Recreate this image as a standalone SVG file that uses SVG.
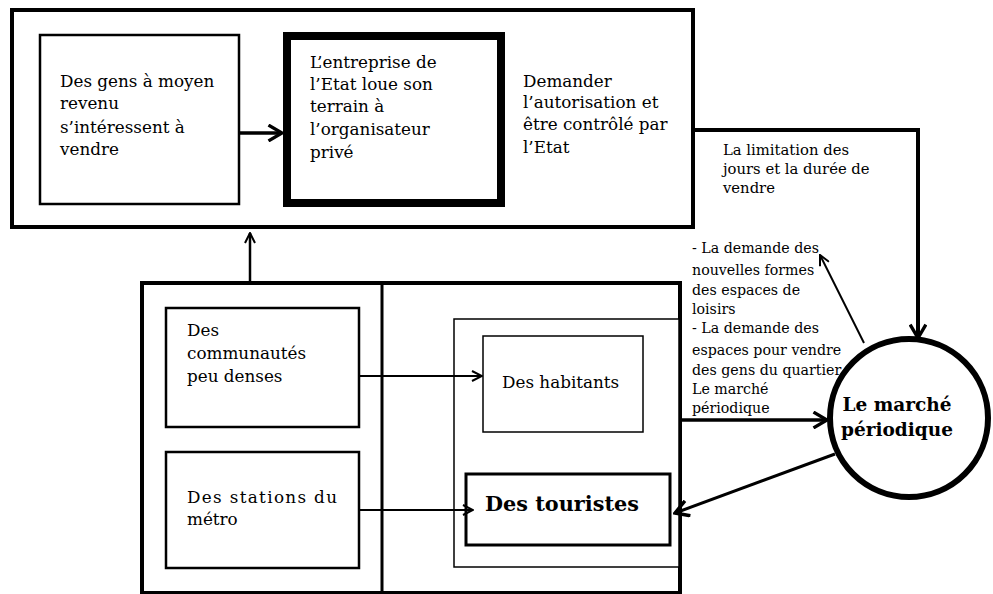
<svg xmlns="http://www.w3.org/2000/svg" width="993" height="594" viewBox="0 0 993 594">
<defs>
<style>
.t{font-family:"DejaVu Serif","Liberation Serif",serif;font-size:16.8px;fill:#000}
.s{font-family:"DejaVu Serif","Liberation Serif",serif;font-size:14.2px;fill:#000}
.s2{font-family:"DejaVu Serif","Liberation Serif",serif;font-size:14.8px;fill:#000}
.b{font-family:"DejaVu Serif","Liberation Serif",serif;font-weight:bold;fill:#000}
.box{fill:#fff;stroke:#000}
.ln{fill:none;stroke:#000;stroke-linecap:butt}
</style>
<marker id="ah" viewBox="0 0 12 12" refX="11" refY="6" markerWidth="12" markerHeight="12" markerUnits="userSpaceOnUse" orient="auto">
<path d="M1,1 L11,6 L1,11" fill="none" stroke="#000" stroke-width="2"/>
</marker>
<marker id="ahL" viewBox="0 0 16 16" refX="14" refY="8" markerWidth="18" markerHeight="18" markerUnits="userSpaceOnUse" orient="auto">
<path d="M2,1 L14,8 L2,15" fill="none" stroke="#000" stroke-width="3"/>
</marker>
</defs>
<rect width="993" height="594" fill="#fff"/>

<g id="top-frame"><rect class="box" x="12" y="10" width="681" height="217" stroke-width="4"/></g>
<g id="n-gens"><rect class="box" x="40" y="35" width="199" height="169" stroke-width="2.5"/>
<text class="t"><tspan x="60" y="87">Des gens à moyen</tspan><tspan x="60" y="109">revenu</tspan><tspan x="60" y="133">s’intéressent à</tspan><tspan x="60" y="155">vendre</tspan></text></g>
<g id="n-entreprise"><rect class="box" x="287" y="36" width="214" height="167" stroke-width="8"/>
<text class="t"><tspan x="310" y="68">L’entreprise de</tspan><tspan x="310" y="90">l’Etat loue son</tspan><tspan x="310" y="112">terrain à</tspan><tspan x="310" y="135">l’organisateur</tspan><tspan x="310" y="158">privé</tspan></text></g>
<g id="n-demander"><text class="t"><tspan x="523" y="87">Demander</tspan><tspan x="523" y="108">l’autorisation et</tspan><tspan x="523" y="130">être contrôlé par</tspan><tspan x="523" y="153">l’Etat</tspan></text></g>

<g id="bottom-frame"><rect class="box" x="142" y="283" width="538" height="310" stroke-width="4"/>
<line class="ln" x1="382" y1="283" x2="382" y2="593" stroke-width="3"/></g>
<g id="n-communautes"><rect class="box" x="166" y="308" width="193" height="119" stroke-width="2.5"/>
<text class="t"><tspan x="187" y="336">Des</tspan><tspan x="187" y="359">communautés</tspan><tspan x="187" y="382">peu denses</tspan></text></g>
<g id="n-stations"><rect class="box" x="166" y="452" width="193" height="116" stroke-width="2.5"/>
<text class="t"><tspan x="187" y="503" textLength="150" lengthAdjust="spacing">Des stations du</tspan><tspan x="187" y="525">métro</tspan></text></g>
<g id="inner-frame"><rect class="box" x="454" y="319" width="225" height="248" stroke-width="1.5"/></g>
<g id="n-habitants"><rect class="box" x="483" y="336" width="160" height="96" stroke-width="1.5"/>
<text class="t" x="502" y="388">Des habitants</text></g>
<g id="n-touristes"><rect class="box" x="466" y="474" width="204" height="71" stroke-width="3"/>
<text class="b" x="485" y="511" font-size="20.8">Des touristes</text></g>
<g id="n-marche"><circle cx="909" cy="418" r="79" fill="#fff" stroke="#000" stroke-width="6"/>
<text class="b" text-anchor="middle" font-size="18.5"><tspan x="897" y="411">Le marché</tspan><tspan x="897" y="436">périodique</tspan></text></g>

<g id="labels">
<text class="s2"><tspan x="723" y="155">La limitation des</tspan><tspan x="723" y="174">jours et la durée de</tspan><tspan x="723" y="193">vendre</tspan></text>
<text class="s"><tspan x="692" y="253">- La demande des</tspan><tspan x="692" y="275">nouvelles formes</tspan><tspan x="692" y="295">des espaces de</tspan><tspan x="692" y="314">loisirs</tspan><tspan x="692" y="333">- La demande des</tspan><tspan x="692" y="355">espaces pour vendre</tspan><tspan x="692" y="375">des gens du quartier</tspan><tspan x="692" y="394">Le marché</tspan><tspan x="692" y="413">périodique</tspan></text>
</g>

<g id="connectors">
<line class="ln" x1="239" y1="133" x2="282" y2="133" stroke-width="3.5" marker-end="url(#ahL)"/>
<polyline class="ln" points="693,130 918,130 918,338" stroke-width="4" marker-end="url(#ahL)"/>
<line class="ln" x1="250" y1="283" x2="250" y2="233" stroke-width="2.5" marker-end="url(#ah)"/>
<line class="ln" x1="359" y1="376" x2="482" y2="376" stroke-width="2" marker-end="url(#ah)"/>
<line class="ln" x1="359" y1="510" x2="473" y2="510" stroke-width="2" marker-end="url(#ah)"/>
<line class="ln" x1="680" y1="420" x2="827" y2="420" stroke-width="3.5" marker-end="url(#ahL)"/>
<line class="ln" x1="864" y1="343" x2="820" y2="255" stroke-width="2" marker-end="url(#ah)"/>
<line class="ln" x1="835" y1="454" x2="675" y2="513" stroke-width="3" marker-end="url(#ahL)"/>
</g>
</svg>
